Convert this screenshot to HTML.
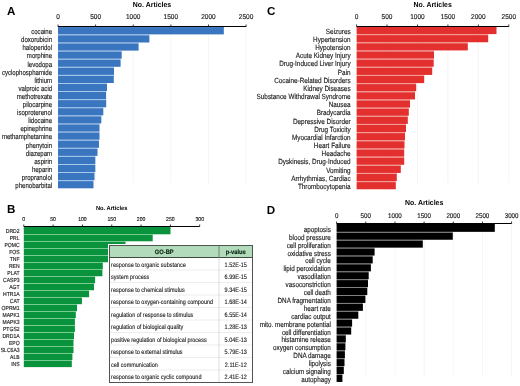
<!DOCTYPE html>
<html><head><meta charset="utf-8"><style>
html,body{margin:0;padding:0;background:#fff;width:520px;height:386px;overflow:hidden}
svg{display:block;font-family:"Liberation Sans",sans-serif;text-rendering:geometricPrecision;filter:blur(0.3px)}
</style></head><body>
<svg width="520" height="386" viewBox="0 0 520 386">
<text x="6.90" y="14.60" font-size="11.6" text-anchor="start" font-weight="bold" fill="#000">A</text>
<text transform="translate(152.00,7.20) scale(0.95,1)" font-size="7.3" text-anchor="middle" font-weight="bold" fill="#000">No. Articles</text>
<line x1="95.62" y1="26.50" x2="95.62" y2="183.50" stroke="#f1f1f1" stroke-width="0.7"/>
<line x1="133.24" y1="26.50" x2="133.24" y2="183.50" stroke="#f1f1f1" stroke-width="0.7"/>
<line x1="170.86" y1="26.50" x2="170.86" y2="183.50" stroke="#f1f1f1" stroke-width="0.7"/>
<line x1="208.48" y1="26.50" x2="208.48" y2="183.50" stroke="#f1f1f1" stroke-width="0.7"/>
<line x1="246.10" y1="26.50" x2="246.10" y2="183.50" stroke="#f1f1f1" stroke-width="0.7"/>
<text transform="translate(58.00,19.40) scale(0.92,1)" font-size="7.1" text-anchor="middle" fill="#1a1a1a" stroke="#1a1a1a" stroke-width="0.15">0</text>
<text transform="translate(95.62,19.40) scale(0.92,1)" font-size="7.1" text-anchor="middle" fill="#1a1a1a" stroke="#1a1a1a" stroke-width="0.15">500</text>
<text transform="translate(133.24,19.40) scale(0.92,1)" font-size="7.1" text-anchor="middle" fill="#1a1a1a" stroke="#1a1a1a" stroke-width="0.15">1000</text>
<text transform="translate(170.86,19.40) scale(0.92,1)" font-size="7.1" text-anchor="middle" fill="#1a1a1a" stroke="#1a1a1a" stroke-width="0.15">1500</text>
<text transform="translate(208.48,19.40) scale(0.92,1)" font-size="7.1" text-anchor="middle" fill="#1a1a1a" stroke="#1a1a1a" stroke-width="0.15">2000</text>
<text transform="translate(246.10,19.40) scale(0.92,1)" font-size="7.1" text-anchor="middle" fill="#1a1a1a" stroke="#1a1a1a" stroke-width="0.15">2500</text>
<rect x="58.00" y="34.40" width="91.40" height="0.90" fill="#aacdf2"/>
<rect x="58.00" y="42.50" width="80.60" height="0.90" fill="#aacdf2"/>
<rect x="58.00" y="50.60" width="63.70" height="0.90" fill="#aacdf2"/>
<rect x="58.00" y="58.70" width="62.60" height="0.90" fill="#aacdf2"/>
<rect x="58.00" y="66.80" width="56.00" height="0.90" fill="#aacdf2"/>
<rect x="58.00" y="74.90" width="55.80" height="0.90" fill="#aacdf2"/>
<rect x="58.00" y="83.00" width="49.00" height="0.90" fill="#aacdf2"/>
<rect x="58.00" y="91.10" width="48.10" height="0.90" fill="#aacdf2"/>
<rect x="58.00" y="99.20" width="48.10" height="0.90" fill="#aacdf2"/>
<rect x="58.00" y="107.30" width="45.30" height="0.90" fill="#aacdf2"/>
<rect x="58.00" y="115.40" width="43.30" height="0.90" fill="#aacdf2"/>
<rect x="58.00" y="123.50" width="41.50" height="0.90" fill="#aacdf2"/>
<rect x="58.00" y="131.60" width="41.50" height="0.90" fill="#aacdf2"/>
<rect x="58.00" y="139.70" width="41.00" height="0.90" fill="#aacdf2"/>
<rect x="58.00" y="147.80" width="39.50" height="0.90" fill="#aacdf2"/>
<rect x="58.00" y="155.90" width="37.30" height="0.90" fill="#aacdf2"/>
<rect x="58.00" y="164.00" width="37.30" height="0.90" fill="#aacdf2"/>
<rect x="58.00" y="172.10" width="36.50" height="0.90" fill="#aacdf2"/>
<rect x="58.00" y="180.20" width="35.50" height="0.90" fill="#aacdf2"/>
<rect x="58.00" y="26.50" width="165.80" height="1.20" fill="#3a75c0"/>
<rect x="58.00" y="27.20" width="165.80" height="7.20" fill="#3a75c0"/>
<text transform="translate(52.10,34.10) scale(0.82,1)" font-size="7.4" text-anchor="end" fill="#1a1a1a" stroke="#1a1a1a" stroke-width="0.15">cocaine</text>
<rect x="58.00" y="35.30" width="91.40" height="7.20" fill="#3a75c0"/>
<text transform="translate(52.10,42.20) scale(0.82,1)" font-size="7.4" text-anchor="end" fill="#1a1a1a" stroke="#1a1a1a" stroke-width="0.15">doxorubicin</text>
<rect x="58.00" y="43.40" width="80.60" height="7.20" fill="#3a75c0"/>
<text transform="translate(52.10,50.30) scale(0.82,1)" font-size="7.4" text-anchor="end" fill="#1a1a1a" stroke="#1a1a1a" stroke-width="0.15">haloperidol</text>
<rect x="58.00" y="51.50" width="63.70" height="7.20" fill="#3a75c0"/>
<text transform="translate(52.10,58.40) scale(0.82,1)" font-size="7.4" text-anchor="end" fill="#1a1a1a" stroke="#1a1a1a" stroke-width="0.15">morphine</text>
<rect x="58.00" y="59.60" width="62.60" height="7.20" fill="#3a75c0"/>
<text transform="translate(52.10,66.50) scale(0.82,1)" font-size="7.4" text-anchor="end" fill="#1a1a1a" stroke="#1a1a1a" stroke-width="0.15">levodopa</text>
<rect x="58.00" y="67.70" width="56.00" height="7.20" fill="#3a75c0"/>
<text transform="translate(52.10,74.60) scale(0.82,1)" font-size="7.4" text-anchor="end" fill="#1a1a1a" stroke="#1a1a1a" stroke-width="0.15">cyclophosphamide</text>
<rect x="58.00" y="75.80" width="55.80" height="7.20" fill="#3a75c0"/>
<text transform="translate(52.10,82.70) scale(0.82,1)" font-size="7.4" text-anchor="end" fill="#1a1a1a" stroke="#1a1a1a" stroke-width="0.15">lithium</text>
<rect x="58.00" y="83.90" width="49.00" height="7.20" fill="#3a75c0"/>
<text transform="translate(52.10,90.80) scale(0.82,1)" font-size="7.4" text-anchor="end" fill="#1a1a1a" stroke="#1a1a1a" stroke-width="0.15">valproic acid</text>
<rect x="58.00" y="92.00" width="48.10" height="7.20" fill="#3a75c0"/>
<text transform="translate(52.10,98.90) scale(0.82,1)" font-size="7.4" text-anchor="end" fill="#1a1a1a" stroke="#1a1a1a" stroke-width="0.15">methotrexate</text>
<rect x="58.00" y="100.10" width="48.20" height="7.20" fill="#3a75c0"/>
<text transform="translate(52.10,107.00) scale(0.82,1)" font-size="7.4" text-anchor="end" fill="#1a1a1a" stroke="#1a1a1a" stroke-width="0.15">pilocarpine</text>
<rect x="58.00" y="108.20" width="45.30" height="7.20" fill="#3a75c0"/>
<text transform="translate(52.10,115.10) scale(0.82,1)" font-size="7.4" text-anchor="end" fill="#1a1a1a" stroke="#1a1a1a" stroke-width="0.15">isoproterenol</text>
<rect x="58.00" y="116.30" width="43.30" height="7.20" fill="#3a75c0"/>
<text transform="translate(52.10,123.20) scale(0.82,1)" font-size="7.4" text-anchor="end" fill="#1a1a1a" stroke="#1a1a1a" stroke-width="0.15">lidocaine</text>
<rect x="58.00" y="124.40" width="41.50" height="7.20" fill="#3a75c0"/>
<text transform="translate(52.10,131.30) scale(0.82,1)" font-size="7.4" text-anchor="end" fill="#1a1a1a" stroke="#1a1a1a" stroke-width="0.15">epinephrine</text>
<rect x="58.00" y="132.50" width="41.50" height="7.20" fill="#3a75c0"/>
<text transform="translate(52.10,139.40) scale(0.82,1)" font-size="7.4" text-anchor="end" fill="#1a1a1a" stroke="#1a1a1a" stroke-width="0.15">methamphetamine</text>
<rect x="58.00" y="140.60" width="41.00" height="7.20" fill="#3a75c0"/>
<text transform="translate(52.10,147.50) scale(0.82,1)" font-size="7.4" text-anchor="end" fill="#1a1a1a" stroke="#1a1a1a" stroke-width="0.15">phenytoin</text>
<rect x="58.00" y="148.70" width="39.50" height="7.20" fill="#3a75c0"/>
<text transform="translate(52.10,155.60) scale(0.82,1)" font-size="7.4" text-anchor="end" fill="#1a1a1a" stroke="#1a1a1a" stroke-width="0.15">diazepam</text>
<rect x="58.00" y="156.80" width="37.30" height="7.20" fill="#3a75c0"/>
<text transform="translate(52.10,163.70) scale(0.82,1)" font-size="7.4" text-anchor="end" fill="#1a1a1a" stroke="#1a1a1a" stroke-width="0.15">aspirin</text>
<rect x="58.00" y="164.90" width="37.30" height="7.20" fill="#3a75c0"/>
<text transform="translate(52.10,171.80) scale(0.82,1)" font-size="7.4" text-anchor="end" fill="#1a1a1a" stroke="#1a1a1a" stroke-width="0.15">heparin</text>
<rect x="58.00" y="173.00" width="36.50" height="7.20" fill="#3a75c0"/>
<text transform="translate(52.10,179.90) scale(0.82,1)" font-size="7.4" text-anchor="end" fill="#1a1a1a" stroke="#1a1a1a" stroke-width="0.15">propranolol</text>
<rect x="58.00" y="181.10" width="35.50" height="7.20" fill="#3a75c0"/>
<text transform="translate(52.10,188.00) scale(0.82,1)" font-size="7.4" text-anchor="end" fill="#1a1a1a" stroke="#1a1a1a" stroke-width="0.15">phenobarbital</text>
<line x1="58.00" y1="26.50" x2="246.10" y2="26.50" stroke="#000" stroke-width="1.0"/>
<line x1="58.00" y1="24.50" x2="58.00" y2="26.50" stroke="#000" stroke-width="0.8"/>
<line x1="95.62" y1="24.50" x2="95.62" y2="26.50" stroke="#000" stroke-width="0.8"/>
<line x1="133.24" y1="24.50" x2="133.24" y2="26.50" stroke="#000" stroke-width="0.8"/>
<line x1="170.86" y1="24.50" x2="170.86" y2="26.50" stroke="#000" stroke-width="0.8"/>
<line x1="208.48" y1="24.50" x2="208.48" y2="26.50" stroke="#000" stroke-width="0.8"/>
<line x1="246.10" y1="24.50" x2="246.10" y2="26.50" stroke="#000" stroke-width="0.8"/>
<text x="266.90" y="14.90" font-size="11.6" text-anchor="start" font-weight="bold" fill="#000">C</text>
<text transform="translate(432.70,7.00) scale(0.95,1)" font-size="7.3" text-anchor="middle" font-weight="bold" fill="#000">No. Articles</text>
<line x1="387.04" y1="26.50" x2="387.04" y2="183.50" stroke="#f1f1f1" stroke-width="0.7"/>
<line x1="417.48" y1="26.50" x2="417.48" y2="183.50" stroke="#f1f1f1" stroke-width="0.7"/>
<line x1="447.92" y1="26.50" x2="447.92" y2="183.50" stroke="#f1f1f1" stroke-width="0.7"/>
<line x1="478.36" y1="26.50" x2="478.36" y2="183.50" stroke="#f1f1f1" stroke-width="0.7"/>
<line x1="508.80" y1="26.50" x2="508.80" y2="183.50" stroke="#f1f1f1" stroke-width="0.7"/>
<text transform="translate(356.60,19.40) scale(0.92,1)" font-size="7.1" text-anchor="middle" fill="#1a1a1a" stroke="#1a1a1a" stroke-width="0.15">0</text>
<text transform="translate(387.04,19.40) scale(0.92,1)" font-size="7.1" text-anchor="middle" fill="#1a1a1a" stroke="#1a1a1a" stroke-width="0.15">500</text>
<text transform="translate(417.48,19.40) scale(0.92,1)" font-size="7.1" text-anchor="middle" fill="#1a1a1a" stroke="#1a1a1a" stroke-width="0.15">1000</text>
<text transform="translate(447.92,19.40) scale(0.92,1)" font-size="7.1" text-anchor="middle" fill="#1a1a1a" stroke="#1a1a1a" stroke-width="0.15">1500</text>
<text transform="translate(478.36,19.40) scale(0.92,1)" font-size="7.1" text-anchor="middle" fill="#1a1a1a" stroke="#1a1a1a" stroke-width="0.15">2000</text>
<text transform="translate(508.80,19.40) scale(0.92,1)" font-size="7.1" text-anchor="middle" fill="#1a1a1a" stroke="#1a1a1a" stroke-width="0.15">2500</text>
<rect x="356.60" y="34.10" width="131.60" height="1.00" fill="#f0a096"/>
<rect x="356.60" y="42.27" width="111.20" height="1.00" fill="#f0a096"/>
<rect x="356.60" y="50.43" width="77.40" height="1.00" fill="#f0a096"/>
<rect x="356.60" y="58.60" width="77.10" height="1.00" fill="#f0a096"/>
<rect x="356.60" y="66.77" width="75.60" height="1.00" fill="#f0a096"/>
<rect x="356.60" y="74.94" width="67.60" height="1.00" fill="#f0a096"/>
<rect x="356.60" y="83.10" width="59.60" height="1.00" fill="#f0a096"/>
<rect x="356.60" y="91.27" width="58.40" height="1.00" fill="#f0a096"/>
<rect x="356.60" y="99.44" width="53.40" height="1.00" fill="#f0a096"/>
<rect x="356.60" y="107.60" width="52.20" height="1.00" fill="#f0a096"/>
<rect x="356.60" y="115.77" width="51.20" height="1.00" fill="#f0a096"/>
<rect x="356.60" y="123.94" width="49.40" height="1.00" fill="#f0a096"/>
<rect x="356.60" y="132.10" width="48.40" height="1.00" fill="#f0a096"/>
<rect x="356.60" y="140.27" width="47.90" height="1.00" fill="#f0a096"/>
<rect x="356.60" y="148.44" width="47.60" height="1.00" fill="#f0a096"/>
<rect x="356.60" y="156.60" width="47.60" height="1.00" fill="#f0a096"/>
<rect x="356.60" y="164.77" width="44.20" height="1.00" fill="#f0a096"/>
<rect x="356.60" y="172.94" width="40.20" height="1.00" fill="#f0a096"/>
<rect x="356.60" y="181.11" width="39.20" height="1.00" fill="#f0a096"/>
<rect x="356.60" y="26.50" width="139.90" height="0.93" fill="#e3302f"/>
<rect x="356.60" y="26.93" width="139.90" height="7.17" fill="#e3302f"/>
<text transform="translate(350.60,33.73) scale(0.848,1)" font-size="7.5" text-anchor="end" fill="#1a1a1a" stroke="#1a1a1a" stroke-width="0.15">Seizures</text>
<rect x="356.60" y="35.10" width="131.60" height="7.17" fill="#e3302f"/>
<text transform="translate(350.60,41.90) scale(0.848,1)" font-size="7.5" text-anchor="end" fill="#1a1a1a" stroke="#1a1a1a" stroke-width="0.15">Hypertension</text>
<rect x="356.60" y="43.26" width="111.20" height="7.17" fill="#e3302f"/>
<text transform="translate(350.60,50.06) scale(0.848,1)" font-size="7.5" text-anchor="end" fill="#1a1a1a" stroke="#1a1a1a" stroke-width="0.15">Hypotension</text>
<rect x="356.60" y="51.43" width="77.40" height="7.17" fill="#e3302f"/>
<text transform="translate(350.60,58.23) scale(0.848,1)" font-size="7.5" text-anchor="end" fill="#1a1a1a" stroke="#1a1a1a" stroke-width="0.15">Acute Kidney Injury</text>
<rect x="356.60" y="59.60" width="77.10" height="7.17" fill="#e3302f"/>
<text transform="translate(350.60,66.40) scale(0.848,1)" font-size="7.5" text-anchor="end" fill="#1a1a1a" stroke="#1a1a1a" stroke-width="0.15">Drug-Induced Liver Injury</text>
<rect x="356.60" y="67.77" width="75.60" height="7.17" fill="#e3302f"/>
<text transform="translate(350.60,74.56) scale(0.848,1)" font-size="7.5" text-anchor="end" fill="#1a1a1a" stroke="#1a1a1a" stroke-width="0.15">Pain</text>
<rect x="356.60" y="75.93" width="67.60" height="7.17" fill="#e3302f"/>
<text transform="translate(350.60,82.73) scale(0.848,1)" font-size="7.5" text-anchor="end" fill="#1a1a1a" stroke="#1a1a1a" stroke-width="0.15">Cocaine-Related Disorders</text>
<rect x="356.60" y="84.10" width="59.60" height="7.17" fill="#e3302f"/>
<text transform="translate(350.60,90.90) scale(0.848,1)" font-size="7.5" text-anchor="end" fill="#1a1a1a" stroke="#1a1a1a" stroke-width="0.15">Kidney Diseases</text>
<rect x="356.60" y="92.27" width="58.40" height="7.17" fill="#e3302f"/>
<text transform="translate(350.60,99.07) scale(0.848,1)" font-size="7.5" text-anchor="end" fill="#1a1a1a" stroke="#1a1a1a" stroke-width="0.15">Substance Withdrawal Syndrome</text>
<rect x="356.60" y="100.43" width="53.40" height="7.17" fill="#e3302f"/>
<text transform="translate(350.60,107.23) scale(0.848,1)" font-size="7.5" text-anchor="end" fill="#1a1a1a" stroke="#1a1a1a" stroke-width="0.15">Nausea</text>
<rect x="356.60" y="108.60" width="52.20" height="7.17" fill="#e3302f"/>
<text transform="translate(350.60,115.40) scale(0.848,1)" font-size="7.5" text-anchor="end" fill="#1a1a1a" stroke="#1a1a1a" stroke-width="0.15">Bradycardia</text>
<rect x="356.60" y="116.77" width="51.20" height="7.17" fill="#e3302f"/>
<text transform="translate(350.60,123.57) scale(0.848,1)" font-size="7.5" text-anchor="end" fill="#1a1a1a" stroke="#1a1a1a" stroke-width="0.15">Depressive Disorder</text>
<rect x="356.60" y="124.93" width="49.40" height="7.17" fill="#e3302f"/>
<text transform="translate(350.60,131.73) scale(0.848,1)" font-size="7.5" text-anchor="end" fill="#1a1a1a" stroke="#1a1a1a" stroke-width="0.15">Drug Toxicity</text>
<rect x="356.60" y="133.10" width="48.40" height="7.17" fill="#e3302f"/>
<text transform="translate(350.60,139.90) scale(0.848,1)" font-size="7.5" text-anchor="end" fill="#1a1a1a" stroke="#1a1a1a" stroke-width="0.15">Myocardial Infarction</text>
<rect x="356.60" y="141.27" width="47.90" height="7.17" fill="#e3302f"/>
<text transform="translate(350.60,148.07) scale(0.848,1)" font-size="7.5" text-anchor="end" fill="#1a1a1a" stroke="#1a1a1a" stroke-width="0.15">Heart Failure</text>
<rect x="356.60" y="149.44" width="47.60" height="7.17" fill="#e3302f"/>
<text transform="translate(350.60,156.24) scale(0.848,1)" font-size="7.5" text-anchor="end" fill="#1a1a1a" stroke="#1a1a1a" stroke-width="0.15">Headache</text>
<rect x="356.60" y="157.60" width="47.60" height="7.17" fill="#e3302f"/>
<text transform="translate(350.60,164.40) scale(0.848,1)" font-size="7.5" text-anchor="end" fill="#1a1a1a" stroke="#1a1a1a" stroke-width="0.15">Dyskinesis, Drug-Induced</text>
<rect x="356.60" y="165.77" width="44.20" height="7.17" fill="#e3302f"/>
<text transform="translate(350.60,172.57) scale(0.848,1)" font-size="7.5" text-anchor="end" fill="#1a1a1a" stroke="#1a1a1a" stroke-width="0.15">Vomiting</text>
<rect x="356.60" y="173.94" width="40.20" height="7.17" fill="#e3302f"/>
<text transform="translate(350.60,180.74) scale(0.848,1)" font-size="7.5" text-anchor="end" fill="#1a1a1a" stroke="#1a1a1a" stroke-width="0.15">Arrhythmias, Cardiac</text>
<rect x="356.60" y="182.10" width="39.20" height="7.17" fill="#e3302f"/>
<text transform="translate(350.60,188.90) scale(0.848,1)" font-size="7.5" text-anchor="end" fill="#1a1a1a" stroke="#1a1a1a" stroke-width="0.15">Thrombocytopenia</text>
<line x1="356.60" y1="26.50" x2="508.80" y2="26.50" stroke="#000" stroke-width="1.0"/>
<line x1="356.60" y1="24.50" x2="356.60" y2="26.50" stroke="#000" stroke-width="0.8"/>
<line x1="387.04" y1="24.50" x2="387.04" y2="26.50" stroke="#000" stroke-width="0.8"/>
<line x1="417.48" y1="24.50" x2="417.48" y2="26.50" stroke="#000" stroke-width="0.8"/>
<line x1="447.92" y1="24.50" x2="447.92" y2="26.50" stroke="#000" stroke-width="0.8"/>
<line x1="478.36" y1="24.50" x2="478.36" y2="26.50" stroke="#000" stroke-width="0.8"/>
<line x1="508.80" y1="24.50" x2="508.80" y2="26.50" stroke="#000" stroke-width="0.8"/>
<text x="7.10" y="213.20" font-size="11.6" text-anchor="start" font-weight="bold" fill="#000">B</text>
<text transform="translate(111.70,210.30) scale(0.95,1)" font-size="6.0" text-anchor="middle" font-weight="bold" fill="#000">No. Articles</text>
<line x1="53.12" y1="226.50" x2="53.12" y2="226.50" stroke="#f1f1f1" stroke-width="0.7"/>
<line x1="82.43" y1="226.50" x2="82.43" y2="226.50" stroke="#f1f1f1" stroke-width="0.7"/>
<line x1="111.75" y1="226.50" x2="111.75" y2="226.50" stroke="#f1f1f1" stroke-width="0.7"/>
<line x1="141.07" y1="226.50" x2="141.07" y2="226.50" stroke="#f1f1f1" stroke-width="0.7"/>
<line x1="170.38" y1="226.50" x2="170.38" y2="226.50" stroke="#f1f1f1" stroke-width="0.7"/>
<line x1="199.70" y1="226.50" x2="199.70" y2="226.50" stroke="#f1f1f1" stroke-width="0.7"/>
<text transform="translate(23.80,221.20) scale(0.92,1)" font-size="5.6" text-anchor="middle" fill="#1a1a1a" stroke="#1a1a1a" stroke-width="0.15">0</text>
<text transform="translate(53.12,221.20) scale(0.92,1)" font-size="5.6" text-anchor="middle" fill="#1a1a1a" stroke="#1a1a1a" stroke-width="0.15">50</text>
<text transform="translate(82.43,221.20) scale(0.92,1)" font-size="5.6" text-anchor="middle" fill="#1a1a1a" stroke="#1a1a1a" stroke-width="0.15">100</text>
<text transform="translate(111.75,221.20) scale(0.92,1)" font-size="5.6" text-anchor="middle" fill="#1a1a1a" stroke="#1a1a1a" stroke-width="0.15">150</text>
<text transform="translate(141.07,221.20) scale(0.92,1)" font-size="5.6" text-anchor="middle" fill="#1a1a1a" stroke="#1a1a1a" stroke-width="0.15">200</text>
<text transform="translate(170.38,221.20) scale(0.92,1)" font-size="5.6" text-anchor="middle" fill="#1a1a1a" stroke="#1a1a1a" stroke-width="0.15">250</text>
<text transform="translate(199.70,221.20) scale(0.92,1)" font-size="5.6" text-anchor="middle" fill="#1a1a1a" stroke="#1a1a1a" stroke-width="0.15">300</text>
<rect x="23.80" y="234.30" width="128.90" height="0.69" fill="#7dd791"/>
<rect x="23.80" y="241.29" width="101.70" height="0.69" fill="#7dd791"/>
<rect x="23.80" y="248.28" width="96.20" height="0.69" fill="#7dd791"/>
<rect x="23.80" y="255.27" width="96.20" height="0.69" fill="#7dd791"/>
<rect x="23.80" y="262.26" width="79.00" height="0.69" fill="#7dd791"/>
<rect x="23.80" y="269.25" width="78.60" height="0.69" fill="#7dd791"/>
<rect x="23.80" y="276.24" width="71.30" height="0.69" fill="#7dd791"/>
<rect x="23.80" y="283.23" width="70.20" height="0.69" fill="#7dd791"/>
<rect x="23.80" y="290.22" width="65.30" height="0.69" fill="#7dd791"/>
<rect x="23.80" y="297.21" width="58.10" height="0.69" fill="#7dd791"/>
<rect x="23.80" y="304.20" width="53.20" height="0.69" fill="#7dd791"/>
<rect x="23.80" y="311.19" width="52.00" height="0.69" fill="#7dd791"/>
<rect x="23.80" y="318.18" width="51.10" height="0.69" fill="#7dd791"/>
<rect x="23.80" y="325.17" width="51.10" height="0.69" fill="#7dd791"/>
<rect x="23.80" y="332.16" width="50.20" height="0.69" fill="#7dd791"/>
<rect x="23.80" y="339.15" width="49.70" height="0.69" fill="#7dd791"/>
<rect x="23.80" y="346.14" width="49.70" height="0.69" fill="#7dd791"/>
<rect x="23.80" y="353.13" width="48.60" height="0.69" fill="#7dd791"/>
<rect x="23.80" y="360.12" width="48.00" height="0.69" fill="#7dd791"/>
<rect x="23.80" y="226.50" width="146.70" height="2.00" fill="#0a933d"/>
<rect x="23.80" y="228.00" width="146.70" height="6.30" fill="#0a933d"/>
<text transform="translate(19.60,233.20) scale(0.86,1)" font-size="5.9" text-anchor="end" fill="#1a1a1a" stroke="#1a1a1a" stroke-width="0.15">DRD2</text>
<rect x="23.80" y="234.99" width="128.90" height="6.30" fill="#0a933d"/>
<text transform="translate(19.60,240.19) scale(0.86,1)" font-size="5.9" text-anchor="end" fill="#1a1a1a" stroke="#1a1a1a" stroke-width="0.15">PRL</text>
<rect x="23.80" y="241.98" width="101.70" height="6.30" fill="#0a933d"/>
<text transform="translate(19.60,247.18) scale(0.86,1)" font-size="5.9" text-anchor="end" fill="#1a1a1a" stroke="#1a1a1a" stroke-width="0.15">POMC</text>
<rect x="23.80" y="248.97" width="96.20" height="6.30" fill="#0a933d"/>
<text transform="translate(19.60,254.17) scale(0.86,1)" font-size="5.9" text-anchor="end" fill="#1a1a1a" stroke="#1a1a1a" stroke-width="0.15">FOS</text>
<rect x="23.80" y="255.96" width="96.20" height="6.30" fill="#0a933d"/>
<text transform="translate(19.60,261.16) scale(0.86,1)" font-size="5.9" text-anchor="end" fill="#1a1a1a" stroke="#1a1a1a" stroke-width="0.15">TNF</text>
<rect x="23.80" y="262.95" width="79.00" height="6.30" fill="#0a933d"/>
<text transform="translate(19.60,268.15) scale(0.86,1)" font-size="5.9" text-anchor="end" fill="#1a1a1a" stroke="#1a1a1a" stroke-width="0.15">REN</text>
<rect x="23.80" y="269.94" width="78.60" height="6.30" fill="#0a933d"/>
<text transform="translate(19.60,275.14) scale(0.86,1)" font-size="5.9" text-anchor="end" fill="#1a1a1a" stroke="#1a1a1a" stroke-width="0.15">PLAT</text>
<rect x="23.80" y="276.93" width="71.30" height="6.30" fill="#0a933d"/>
<text transform="translate(19.60,282.13) scale(0.86,1)" font-size="5.9" text-anchor="end" fill="#1a1a1a" stroke="#1a1a1a" stroke-width="0.15">CASP3</text>
<rect x="23.80" y="283.92" width="70.20" height="6.30" fill="#0a933d"/>
<text transform="translate(19.60,289.12) scale(0.86,1)" font-size="5.9" text-anchor="end" fill="#1a1a1a" stroke="#1a1a1a" stroke-width="0.15">AGT</text>
<rect x="23.80" y="290.91" width="65.30" height="6.30" fill="#0a933d"/>
<text transform="translate(19.60,296.11) scale(0.86,1)" font-size="5.9" text-anchor="end" fill="#1a1a1a" stroke="#1a1a1a" stroke-width="0.15">HTR1A</text>
<rect x="23.80" y="297.90" width="58.10" height="6.30" fill="#0a933d"/>
<text transform="translate(19.60,303.10) scale(0.86,1)" font-size="5.9" text-anchor="end" fill="#1a1a1a" stroke="#1a1a1a" stroke-width="0.15">CAT</text>
<rect x="23.80" y="304.89" width="53.20" height="6.30" fill="#0a933d"/>
<text transform="translate(19.60,310.09) scale(0.86,1)" font-size="5.9" text-anchor="end" fill="#1a1a1a" stroke="#1a1a1a" stroke-width="0.15">OPRM1</text>
<rect x="23.80" y="311.88" width="52.00" height="6.30" fill="#0a933d"/>
<text transform="translate(19.60,317.08) scale(0.86,1)" font-size="5.9" text-anchor="end" fill="#1a1a1a" stroke="#1a1a1a" stroke-width="0.15">MAPK1</text>
<rect x="23.80" y="318.87" width="51.10" height="6.30" fill="#0a933d"/>
<text transform="translate(19.60,324.07) scale(0.86,1)" font-size="5.9" text-anchor="end" fill="#1a1a1a" stroke="#1a1a1a" stroke-width="0.15">MAPK3</text>
<rect x="23.80" y="325.86" width="51.10" height="6.30" fill="#0a933d"/>
<text transform="translate(19.60,331.06) scale(0.86,1)" font-size="5.9" text-anchor="end" fill="#1a1a1a" stroke="#1a1a1a" stroke-width="0.15">PTGS2</text>
<rect x="23.80" y="332.85" width="50.20" height="6.30" fill="#0a933d"/>
<text transform="translate(19.60,338.05) scale(0.86,1)" font-size="5.9" text-anchor="end" fill="#1a1a1a" stroke="#1a1a1a" stroke-width="0.15">DRD1A</text>
<rect x="23.80" y="339.84" width="49.70" height="6.30" fill="#0a933d"/>
<text transform="translate(19.60,345.04) scale(0.86,1)" font-size="5.9" text-anchor="end" fill="#1a1a1a" stroke="#1a1a1a" stroke-width="0.15">EPO</text>
<rect x="23.80" y="346.83" width="49.70" height="6.30" fill="#0a933d"/>
<text transform="translate(19.60,352.03) scale(0.86,1)" font-size="5.9" text-anchor="end" fill="#1a1a1a" stroke="#1a1a1a" stroke-width="0.15">SLC6A3</text>
<rect x="23.80" y="353.82" width="48.60" height="6.30" fill="#0a933d"/>
<text transform="translate(19.60,359.02) scale(0.86,1)" font-size="5.9" text-anchor="end" fill="#1a1a1a" stroke="#1a1a1a" stroke-width="0.15">ALB</text>
<rect x="23.80" y="360.81" width="48.00" height="6.30" fill="#0a933d"/>
<text transform="translate(19.60,366.01) scale(0.86,1)" font-size="5.9" text-anchor="end" fill="#1a1a1a" stroke="#1a1a1a" stroke-width="0.15">INS</text>
<line x1="23.80" y1="226.50" x2="199.70" y2="226.50" stroke="#000" stroke-width="1.0"/>
<line x1="23.80" y1="224.50" x2="23.80" y2="226.50" stroke="#000" stroke-width="0.8"/>
<line x1="53.12" y1="224.50" x2="53.12" y2="226.50" stroke="#000" stroke-width="0.8"/>
<line x1="82.43" y1="224.50" x2="82.43" y2="226.50" stroke="#000" stroke-width="0.8"/>
<line x1="111.75" y1="224.50" x2="111.75" y2="226.50" stroke="#000" stroke-width="0.8"/>
<line x1="141.07" y1="224.50" x2="141.07" y2="226.50" stroke="#000" stroke-width="0.8"/>
<line x1="170.38" y1="224.50" x2="170.38" y2="226.50" stroke="#000" stroke-width="0.8"/>
<line x1="199.70" y1="224.50" x2="199.70" y2="226.50" stroke="#000" stroke-width="0.8"/>
<text x="266.70" y="213.60" font-size="11.6" text-anchor="start" font-weight="bold" fill="#000">D</text>
<text transform="translate(424.20,205.20) scale(0.95,1)" font-size="7.3" text-anchor="middle" font-weight="bold" fill="#000">No. Articles</text>
<line x1="365.77" y1="223.50" x2="365.77" y2="376.00" stroke="#f1f1f1" stroke-width="0.7"/>
<line x1="394.93" y1="223.50" x2="394.93" y2="376.00" stroke="#f1f1f1" stroke-width="0.7"/>
<line x1="424.10" y1="223.50" x2="424.10" y2="376.00" stroke="#f1f1f1" stroke-width="0.7"/>
<line x1="453.27" y1="223.50" x2="453.27" y2="376.00" stroke="#f1f1f1" stroke-width="0.7"/>
<line x1="482.43" y1="223.50" x2="482.43" y2="376.00" stroke="#f1f1f1" stroke-width="0.7"/>
<line x1="511.60" y1="223.50" x2="511.60" y2="376.00" stroke="#f1f1f1" stroke-width="0.7"/>
<text transform="translate(336.60,217.60) scale(0.91,1)" font-size="6.8" text-anchor="middle" fill="#1a1a1a" stroke="#1a1a1a" stroke-width="0.15">0</text>
<text transform="translate(365.77,217.60) scale(0.91,1)" font-size="6.8" text-anchor="middle" fill="#1a1a1a" stroke="#1a1a1a" stroke-width="0.15">500</text>
<text transform="translate(394.93,217.60) scale(0.91,1)" font-size="6.8" text-anchor="middle" fill="#1a1a1a" stroke="#1a1a1a" stroke-width="0.15">1000</text>
<text transform="translate(424.10,217.60) scale(0.91,1)" font-size="6.8" text-anchor="middle" fill="#1a1a1a" stroke="#1a1a1a" stroke-width="0.15">1500</text>
<text transform="translate(453.27,217.60) scale(0.91,1)" font-size="6.8" text-anchor="middle" fill="#1a1a1a" stroke="#1a1a1a" stroke-width="0.15">2000</text>
<text transform="translate(482.43,217.60) scale(0.91,1)" font-size="6.8" text-anchor="middle" fill="#1a1a1a" stroke="#1a1a1a" stroke-width="0.15">2500</text>
<text transform="translate(511.60,217.60) scale(0.91,1)" font-size="6.8" text-anchor="middle" fill="#1a1a1a" stroke="#1a1a1a" stroke-width="0.15">3000</text>
<rect x="336.60" y="231.85" width="116.20" height="0.85" fill="#858585"/>
<rect x="336.60" y="239.75" width="86.20" height="0.85" fill="#858585"/>
<rect x="336.60" y="247.65" width="38.00" height="0.85" fill="#858585"/>
<rect x="336.60" y="255.55" width="36.10" height="0.85" fill="#858585"/>
<rect x="336.60" y="263.45" width="34.30" height="0.85" fill="#858585"/>
<rect x="336.60" y="271.35" width="32.10" height="0.85" fill="#858585"/>
<rect x="336.60" y="279.25" width="31.40" height="0.85" fill="#858585"/>
<rect x="336.60" y="287.15" width="30.70" height="0.85" fill="#858585"/>
<rect x="336.60" y="295.05" width="28.80" height="0.85" fill="#858585"/>
<rect x="336.60" y="302.95" width="26.30" height="0.85" fill="#858585"/>
<rect x="336.60" y="310.85" width="21.70" height="0.85" fill="#858585"/>
<rect x="336.60" y="318.75" width="15.50" height="0.85" fill="#858585"/>
<rect x="336.60" y="326.65" width="14.60" height="0.85" fill="#858585"/>
<rect x="336.60" y="334.55" width="9.20" height="0.85" fill="#858585"/>
<rect x="336.60" y="342.45" width="8.80" height="0.85" fill="#858585"/>
<rect x="336.60" y="350.35" width="8.30" height="0.85" fill="#858585"/>
<rect x="336.60" y="358.25" width="7.90" height="0.85" fill="#858585"/>
<rect x="336.60" y="366.15" width="7.20" height="0.85" fill="#858585"/>
<rect x="336.60" y="374.05" width="5.80" height="0.85" fill="#858585"/>
<rect x="336.60" y="223.50" width="158.20" height="1.80" fill="#000"/>
<rect x="336.60" y="224.80" width="158.20" height="7.05" fill="#000"/>
<text transform="translate(330.80,231.80) scale(0.84,1)" font-size="7.5" text-anchor="end" fill="#1a1a1a" stroke="#1a1a1a" stroke-width="0.15">apoptosis</text>
<rect x="336.60" y="232.70" width="116.20" height="7.05" fill="#000"/>
<text transform="translate(330.80,239.70) scale(0.84,1)" font-size="7.5" text-anchor="end" fill="#1a1a1a" stroke="#1a1a1a" stroke-width="0.15">blood pressure</text>
<rect x="336.60" y="240.60" width="86.20" height="7.05" fill="#000"/>
<text transform="translate(330.80,247.60) scale(0.84,1)" font-size="7.5" text-anchor="end" fill="#1a1a1a" stroke="#1a1a1a" stroke-width="0.15">cell proliferation</text>
<rect x="336.60" y="248.50" width="38.00" height="7.05" fill="#000"/>
<text transform="translate(330.80,255.50) scale(0.84,1)" font-size="7.5" text-anchor="end" fill="#1a1a1a" stroke="#1a1a1a" stroke-width="0.15">oxidative stress</text>
<rect x="336.60" y="256.40" width="36.10" height="7.05" fill="#000"/>
<text transform="translate(330.80,263.40) scale(0.84,1)" font-size="7.5" text-anchor="end" fill="#1a1a1a" stroke="#1a1a1a" stroke-width="0.15">cell cycle</text>
<rect x="336.60" y="264.30" width="34.30" height="7.05" fill="#000"/>
<text transform="translate(330.80,271.30) scale(0.84,1)" font-size="7.5" text-anchor="end" fill="#1a1a1a" stroke="#1a1a1a" stroke-width="0.15">lipid peroxidation</text>
<rect x="336.60" y="272.20" width="32.10" height="7.05" fill="#000"/>
<text transform="translate(330.80,279.20) scale(0.84,1)" font-size="7.5" text-anchor="end" fill="#1a1a1a" stroke="#1a1a1a" stroke-width="0.15">vasodilation</text>
<rect x="336.60" y="280.10" width="31.40" height="7.05" fill="#000"/>
<text transform="translate(330.80,287.10) scale(0.84,1)" font-size="7.5" text-anchor="end" fill="#1a1a1a" stroke="#1a1a1a" stroke-width="0.15">vasoconstriction</text>
<rect x="336.60" y="288.00" width="30.70" height="7.05" fill="#000"/>
<text transform="translate(330.80,295.00) scale(0.84,1)" font-size="7.5" text-anchor="end" fill="#1a1a1a" stroke="#1a1a1a" stroke-width="0.15">cell death</text>
<rect x="336.60" y="295.90" width="28.80" height="7.05" fill="#000"/>
<text transform="translate(330.80,302.90) scale(0.84,1)" font-size="7.5" text-anchor="end" fill="#1a1a1a" stroke="#1a1a1a" stroke-width="0.15">DNA fragmentation</text>
<rect x="336.60" y="303.80" width="26.30" height="7.05" fill="#000"/>
<text transform="translate(330.80,310.80) scale(0.84,1)" font-size="7.5" text-anchor="end" fill="#1a1a1a" stroke="#1a1a1a" stroke-width="0.15">heart rate</text>
<rect x="336.60" y="311.70" width="21.70" height="7.05" fill="#000"/>
<text transform="translate(330.80,318.70) scale(0.84,1)" font-size="7.5" text-anchor="end" fill="#1a1a1a" stroke="#1a1a1a" stroke-width="0.15">cardiac output</text>
<rect x="336.60" y="319.60" width="15.50" height="7.05" fill="#000"/>
<text transform="translate(330.80,326.60) scale(0.84,1)" font-size="7.5" text-anchor="end" fill="#1a1a1a" stroke="#1a1a1a" stroke-width="0.15">mito. membrane potential</text>
<rect x="336.60" y="327.50" width="14.60" height="7.05" fill="#000"/>
<text transform="translate(330.80,334.50) scale(0.84,1)" font-size="7.5" text-anchor="end" fill="#1a1a1a" stroke="#1a1a1a" stroke-width="0.15">cell differentiation</text>
<rect x="336.60" y="335.40" width="9.20" height="7.05" fill="#000"/>
<text transform="translate(330.80,342.40) scale(0.84,1)" font-size="7.5" text-anchor="end" fill="#1a1a1a" stroke="#1a1a1a" stroke-width="0.15">histamine release</text>
<rect x="336.60" y="343.30" width="8.80" height="7.05" fill="#000"/>
<text transform="translate(330.80,350.30) scale(0.84,1)" font-size="7.5" text-anchor="end" fill="#1a1a1a" stroke="#1a1a1a" stroke-width="0.15">oxygen consumption</text>
<rect x="336.60" y="351.20" width="8.30" height="7.05" fill="#000"/>
<text transform="translate(330.80,358.20) scale(0.84,1)" font-size="7.5" text-anchor="end" fill="#1a1a1a" stroke="#1a1a1a" stroke-width="0.15">DNA damage</text>
<rect x="336.60" y="359.10" width="7.90" height="7.05" fill="#000"/>
<text transform="translate(330.80,366.10) scale(0.84,1)" font-size="7.5" text-anchor="end" fill="#1a1a1a" stroke="#1a1a1a" stroke-width="0.15">lipolysis</text>
<rect x="336.60" y="367.00" width="7.20" height="7.05" fill="#000"/>
<text transform="translate(330.80,374.00) scale(0.84,1)" font-size="7.5" text-anchor="end" fill="#1a1a1a" stroke="#1a1a1a" stroke-width="0.15">calcium signaling</text>
<rect x="336.60" y="374.90" width="5.80" height="7.05" fill="#000"/>
<text transform="translate(330.80,381.90) scale(0.84,1)" font-size="7.5" text-anchor="end" fill="#1a1a1a" stroke="#1a1a1a" stroke-width="0.15">autophagy</text>
<line x1="336.60" y1="223.50" x2="511.60" y2="223.50" stroke="#000" stroke-width="1.0"/>
<line x1="336.60" y1="221.50" x2="336.60" y2="223.50" stroke="#000" stroke-width="0.8"/>
<line x1="365.77" y1="221.50" x2="365.77" y2="223.50" stroke="#000" stroke-width="0.8"/>
<line x1="394.93" y1="221.50" x2="394.93" y2="223.50" stroke="#000" stroke-width="0.8"/>
<line x1="424.10" y1="221.50" x2="424.10" y2="223.50" stroke="#000" stroke-width="0.8"/>
<line x1="453.27" y1="221.50" x2="453.27" y2="223.50" stroke="#000" stroke-width="0.8"/>
<line x1="482.43" y1="221.50" x2="482.43" y2="223.50" stroke="#000" stroke-width="0.8"/>
<line x1="511.60" y1="221.50" x2="511.60" y2="223.50" stroke="#000" stroke-width="0.8"/>
<rect x="108.00" y="244.00" width="146.00" height="140.00" fill="#fff"/>
<rect x="109.50" y="245.50" width="143.00" height="12.00" fill="#b2dbbb"/>
<line x1="109.50" y1="270.00" x2="252.50" y2="270.00" stroke="#dadada" stroke-width="0.5"/>
<line x1="109.50" y1="282.50" x2="252.50" y2="282.50" stroke="#dadada" stroke-width="0.5"/>
<line x1="109.50" y1="295.00" x2="252.50" y2="295.00" stroke="#dadada" stroke-width="0.5"/>
<line x1="109.50" y1="307.50" x2="252.50" y2="307.50" stroke="#dadada" stroke-width="0.5"/>
<line x1="109.50" y1="320.00" x2="252.50" y2="320.00" stroke="#dadada" stroke-width="0.5"/>
<line x1="109.50" y1="332.50" x2="252.50" y2="332.50" stroke="#dadada" stroke-width="0.5"/>
<line x1="109.50" y1="345.00" x2="252.50" y2="345.00" stroke="#dadada" stroke-width="0.5"/>
<line x1="109.50" y1="357.50" x2="252.50" y2="357.50" stroke="#dadada" stroke-width="0.5"/>
<line x1="109.50" y1="370.00" x2="252.50" y2="370.00" stroke="#dadada" stroke-width="0.5"/>
<text transform="translate(111.10,266.55) scale(0.845,1)" font-size="6.5" text-anchor="start" fill="#1a1a1a" stroke="#1a1a1a" stroke-width="0.12">response to organic substance</text>
<text transform="translate(235.75,266.55) scale(0.845,1)" font-size="6.5" text-anchor="middle" fill="#1a1a1a" stroke="#1a1a1a" stroke-width="0.12">1.52E-15</text>
<text transform="translate(111.10,279.05) scale(0.845,1)" font-size="6.5" text-anchor="start" fill="#1a1a1a" stroke="#1a1a1a" stroke-width="0.12">system process</text>
<text transform="translate(235.75,279.05) scale(0.845,1)" font-size="6.5" text-anchor="middle" fill="#1a1a1a" stroke="#1a1a1a" stroke-width="0.12">6.99E-15</text>
<text transform="translate(111.10,291.55) scale(0.845,1)" font-size="6.5" text-anchor="start" fill="#1a1a1a" stroke="#1a1a1a" stroke-width="0.12">response to chemical stimulus</text>
<text transform="translate(235.75,291.55) scale(0.845,1)" font-size="6.5" text-anchor="middle" fill="#1a1a1a" stroke="#1a1a1a" stroke-width="0.12">9.34E-15</text>
<text transform="translate(111.10,304.05) scale(0.845,1)" font-size="6.5" text-anchor="start" fill="#1a1a1a" stroke="#1a1a1a" stroke-width="0.12">response to oxygen-containing compound</text>
<text transform="translate(235.75,304.05) scale(0.845,1)" font-size="6.5" text-anchor="middle" fill="#1a1a1a" stroke="#1a1a1a" stroke-width="0.12">1.68E-14</text>
<text transform="translate(111.10,316.55) scale(0.845,1)" font-size="6.5" text-anchor="start" fill="#1a1a1a" stroke="#1a1a1a" stroke-width="0.12">regulation of response to stimulus</text>
<text transform="translate(235.75,316.55) scale(0.845,1)" font-size="6.5" text-anchor="middle" fill="#1a1a1a" stroke="#1a1a1a" stroke-width="0.12">6.55E-14</text>
<text transform="translate(111.10,329.05) scale(0.845,1)" font-size="6.5" text-anchor="start" fill="#1a1a1a" stroke="#1a1a1a" stroke-width="0.12">regulation of biological quality</text>
<text transform="translate(235.75,329.05) scale(0.845,1)" font-size="6.5" text-anchor="middle" fill="#1a1a1a" stroke="#1a1a1a" stroke-width="0.12">1.28E-13</text>
<text transform="translate(111.10,341.55) scale(0.845,1)" font-size="6.5" text-anchor="start" fill="#1a1a1a" stroke="#1a1a1a" stroke-width="0.12">positive regulation of biological process</text>
<text transform="translate(235.75,341.55) scale(0.845,1)" font-size="6.5" text-anchor="middle" fill="#1a1a1a" stroke="#1a1a1a" stroke-width="0.12">5.04E-13</text>
<text transform="translate(111.10,354.05) scale(0.845,1)" font-size="6.5" text-anchor="start" fill="#1a1a1a" stroke="#1a1a1a" stroke-width="0.12">response to external stimulus</text>
<text transform="translate(235.75,354.05) scale(0.845,1)" font-size="6.5" text-anchor="middle" fill="#1a1a1a" stroke="#1a1a1a" stroke-width="0.12">5.79E-13</text>
<text transform="translate(111.10,366.55) scale(0.845,1)" font-size="6.5" text-anchor="start" fill="#1a1a1a" stroke="#1a1a1a" stroke-width="0.12">cell communication</text>
<text transform="translate(235.75,366.55) scale(0.845,1)" font-size="6.5" text-anchor="middle" fill="#1a1a1a" stroke="#1a1a1a" stroke-width="0.12">2.11E-12</text>
<text transform="translate(111.10,379.05) scale(0.845,1)" font-size="6.5" text-anchor="start" fill="#1a1a1a" stroke="#1a1a1a" stroke-width="0.12">response to organic cyclic compound</text>
<text transform="translate(235.75,379.05) scale(0.845,1)" font-size="6.5" text-anchor="middle" fill="#1a1a1a" stroke="#1a1a1a" stroke-width="0.12">2.41E-12</text>
<text transform="translate(164.25,253.80) scale(0.9,1)" font-size="6.4" text-anchor="middle" font-weight="bold" fill="#0a2410" stroke="#0a2410" stroke-width="0.15">GO-BP</text>
<text transform="translate(235.75,253.80) scale(0.9,1)" font-size="6.4" text-anchor="middle" font-weight="bold" fill="#0a2410" stroke="#0a2410" stroke-width="0.15">p-value</text>
<line x1="109.50" y1="257.50" x2="252.50" y2="257.50" stroke="#3e4a40" stroke-width="1.0"/>
<line x1="219.00" y1="257.50" x2="219.00" y2="382.50" stroke="#c8c8c8" stroke-width="0.6"/>
<line x1="219.00" y1="245.50" x2="219.00" y2="257.50" stroke="#5d6e60" stroke-width="0.8"/>
<rect x="109.50" y="245.50" width="143.00" height="137.00" fill="none" stroke="#505550" stroke-width="1"/>
</svg>
</body></html>
